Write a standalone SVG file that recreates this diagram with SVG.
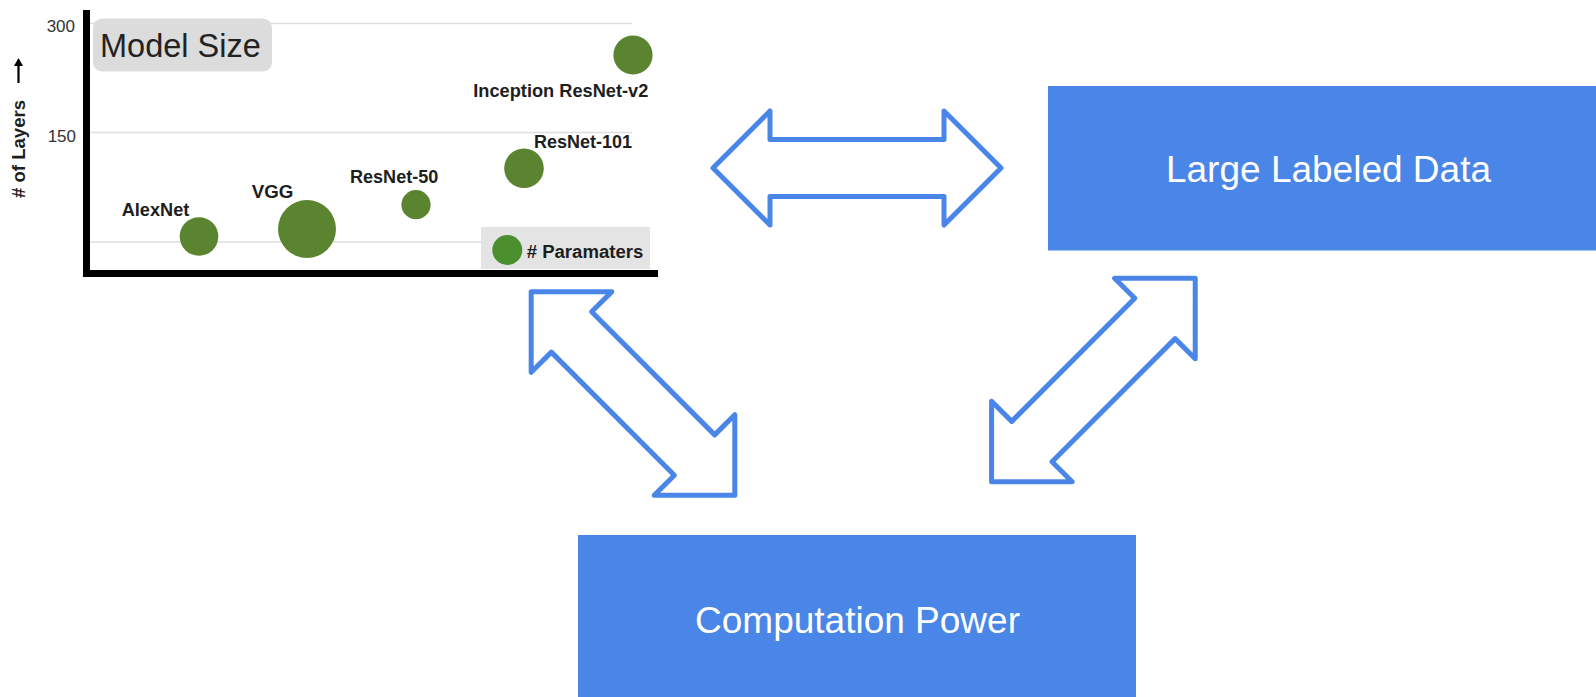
<svg xmlns="http://www.w3.org/2000/svg" width="1596" height="697" viewBox="0 0 1596 697">
  <style>
    .box { fill: #4a86e8; }
    .box-label { font-family: "Liberation Sans", Arial, sans-serif; font-size: 37px; fill: #ffffff; text-anchor: middle; }
    .link { fill: none; stroke: #4a86e8; stroke-width: 5; stroke-linejoin: round; }
    .axis { stroke: #000000; stroke-width: 7; }
    .grid { stroke: #dedede; stroke-width: 1.5; }
    .tick { font-family: "Liberation Sans", Arial, sans-serif; font-size: 17px; fill: #333333; text-anchor: end; }
    .name { font-family: "Liberation Sans", Arial, sans-serif; font-size: 18px; font-weight: bold; fill: #1e1e1e; }
    .bubble { fill: #5a842f; }
  </style>
  <defs>
    <!-- hollow two-headed arrow, centred on the origin, pointing along x -->
    <path id="dbl-arrow" d="M -144 0 L -87 -57 L -87 -28.5 L 87 -28.5 L 87 -57 L 144 0 L 87 57 L 87 28.5 L -87 28.5 L -87 57 Z"/>
  </defs>

  <rect width="1596" height="697" fill="#ffffff"/>

  <!-- bubble chart: layers versus parameters -->
  <g id="model-size">
    <line class="grid" x1="90" y1="23.5" x2="632" y2="23.5"/>
    <line class="grid" x1="90" y1="132.5" x2="632" y2="132.5"/>
    <line class="grid" x1="90" y1="242" x2="632" y2="242"/>
    <text class="tick" x="75" y="31.5">300</text>
    <text class="tick" x="76" y="141.5">150</text>

    <rect x="481" y="227" width="169" height="42" fill="#e4e4e4"/>

    <line class="axis" x1="86.5" y1="10" x2="86.5" y2="277"/>
    <line class="axis" x1="83" y1="273.5" x2="658" y2="273.5"/>

    <rect x="93" y="18.5" width="179" height="53" rx="9" fill="#dcdcdc"/>
    <text x="100" y="56.5" font-family="'Liberation Sans', Arial, sans-serif" font-size="32.5" fill="#222222">Model Size</text>

    <g transform="translate(25 198) rotate(-90)">
      <text class="name" x="0" y="0" textLength="98" lengthAdjust="spacingAndGlyphs"># of Layers</text>
      <line x1="115" y1="-6.5" x2="136" y2="-6.5" stroke="#000000" stroke-width="2.2"/>
      <polygon points="140,-6.5 132,-11 132,-2" fill="#000000"/>
    </g>

    <circle class="bubble" cx="199" cy="236.5" r="19.3"/>
    <circle class="bubble" cx="307" cy="229" r="29"/>
    <circle class="bubble" cx="416" cy="204.7" r="14.6"/>
    <circle class="bubble" cx="524" cy="168.3" r="19.8"/>
    <circle class="bubble" cx="633" cy="55" r="19.6"/>
    <circle cx="507.3" cy="250" r="15" fill="#4b8f2e"/>

    <text class="name" x="121.7" y="216" textLength="67.6" lengthAdjust="spacingAndGlyphs">AlexNet</text>
    <text class="name" x="251.7" y="198.3" textLength="41.6" lengthAdjust="spacingAndGlyphs">VGG</text>
    <text class="name" x="350" y="183.3" textLength="88.3" lengthAdjust="spacingAndGlyphs">ResNet-50</text>
    <text class="name" x="534" y="148.3" textLength="98" lengthAdjust="spacingAndGlyphs">ResNet-101</text>
    <text class="name" x="473.3" y="96.7" textLength="175" lengthAdjust="spacingAndGlyphs">Inception ResNet-v2</text>
    <text class="name" x="526.7" y="258.3" textLength="116.6" lengthAdjust="spacingAndGlyphs"># Paramaters</text>
  </g>

  <g id="large-labeled-data">
    <rect class="box" x="1048" y="86" width="548" height="164.5"/>
    <text class="box-label" x="1328.5" y="181.7">Large Labeled Data</text>
  </g>

  <g id="computation-power">
    <rect class="box" x="578" y="535" width="558" height="162"/>
    <text class="box-label" x="857.5" y="632.5">Computation Power</text>
  </g>

  <!-- two-way links between the three factors -->
  <g id="connectors">
    <use href="#dbl-arrow" class="link" transform="translate(857 168)"/>
    <use href="#dbl-arrow" class="link" transform="translate(633 393.5) rotate(45)"/>
    <use href="#dbl-arrow" class="link" transform="translate(1093.4 380) rotate(-45)"/>
  </g>
</svg>
